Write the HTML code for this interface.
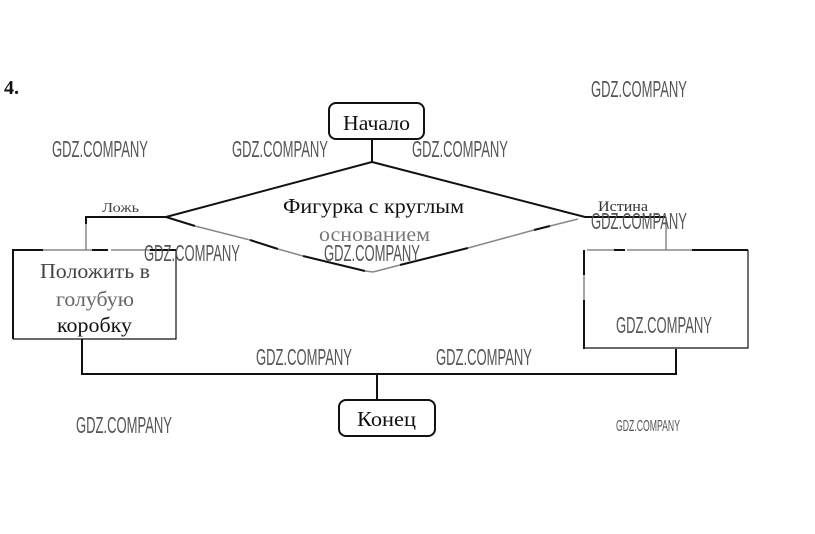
<!DOCTYPE html>
<html><head><meta charset="utf-8"><style>
html,body{margin:0;padding:0;background:#fff;width:815px;height:534px;overflow:hidden}
svg{display:block}
.w{font-family:"Liberation Sans",sans-serif;font-size:23.5px;fill:#555}
.t{font-family:"Liberation Serif",serif;fill:#111}
</style></head><body>
<svg width="815" height="534" viewBox="0 0 815 534" xmlns="http://www.w3.org/2000/svg">
<rect width="815" height="534" fill="#fff"/>
<g fill="none" stroke="#111" stroke-width="2">
<rect x="329" y="103" width="95" height="36" rx="7"/>
<rect x="339" y="400" width="96" height="36" rx="7"/>
<path d="M372 139V162L166 217H86V224"/>
<path d="M372 162L585 217H666"/>
<path d="M166 217L195 226M250 240L278 249M303 256L365 271"/>
<path d="M400 265L468 248M534 230L550 226"/>
<path d="M82 339V374H676V349M377 374V400"/>
<path d="M13 339V250H43M92 250H108M150 250H176"/>
<path d="M584 275V250M584 300V349M614 250H625M692 250H748"/>
</g>
<g fill="none" stroke="#888" stroke-width="1.5">
<path d="M86 224V250M43 250H92M111 250H150"/>
<path d="M195 226L250 240M278 249L303 256M365 271L373 272L400 265M468 248L534 230M550 226L578 219"/>
<path d="M666 217V250M587 250H614M627 250H692M584 275V300"/>
</g>
<g fill="none" stroke="#111" stroke-width="1.2">
<path d="M13 339H176V250"/>
<path d="M584 348H748V250"/>
</g>
<text x="4" y="94" class="t" font-size="20" font-weight="bold">4.</text>
<text x="343" y="130" class="t" font-size="21" textLength="67" lengthAdjust="spacingAndGlyphs">Начало</text>
<text x="283" y="213" class="t" font-size="21" textLength="181" lengthAdjust="spacingAndGlyphs">Фигурка с круглым</text>
<text x="319" y="241" class="t" font-size="20" textLength="111" lengthAdjust="spacingAndGlyphs" style="fill:#777">основанием</text>
<text x="102" y="212" class="t" font-size="14" textLength="37" lengthAdjust="spacingAndGlyphs" style="fill:#444">Ложь</text>
<text x="598" y="211" class="t" font-size="15" textLength="50" lengthAdjust="spacingAndGlyphs" style="fill:#333">Истина</text>
<text x="40" y="278" class="t" font-size="21" textLength="110" lengthAdjust="spacingAndGlyphs" style="fill:#444">Положить в</text>
<text x="56" y="306" class="t" font-size="21" textLength="78" lengthAdjust="spacingAndGlyphs" style="fill:#666">голубую</text>
<text x="57" y="332" class="t" font-size="21" textLength="75" lengthAdjust="spacingAndGlyphs">коробку</text>
<text x="357" y="426" class="t" font-size="21" textLength="59" lengthAdjust="spacingAndGlyphs">Конец</text>
<text class="w" x="591" y="97" textLength="96" lengthAdjust="spacingAndGlyphs">GDZ.COMPANY</text>
<text class="w" x="52" y="157" textLength="96" lengthAdjust="spacingAndGlyphs">GDZ.COMPANY</text>
<text class="w" x="232" y="157" textLength="96" lengthAdjust="spacingAndGlyphs">GDZ.COMPANY</text>
<text class="w" x="412" y="157" textLength="96" lengthAdjust="spacingAndGlyphs">GDZ.COMPANY</text>
<text class="w" x="591" y="229" textLength="96" lengthAdjust="spacingAndGlyphs">GDZ.COMPANY</text>
<text class="w" x="144" y="261" textLength="96" lengthAdjust="spacingAndGlyphs">GDZ.COMPANY</text>
<text class="w" x="324" y="261" textLength="96" lengthAdjust="spacingAndGlyphs">GDZ.COMPANY</text>
<text class="w" x="616" y="333" textLength="96" lengthAdjust="spacingAndGlyphs">GDZ.COMPANY</text>
<text class="w" x="256" y="365" textLength="96" lengthAdjust="spacingAndGlyphs">GDZ.COMPANY</text>
<text class="w" x="436" y="365" textLength="96" lengthAdjust="spacingAndGlyphs">GDZ.COMPANY</text>
<text class="w" x="76" y="433" textLength="96" lengthAdjust="spacingAndGlyphs">GDZ.COMPANY</text>
<text class="w" x="616" y="431" textLength="64" lengthAdjust="spacingAndGlyphs" style="font-size:16px">GDZ.COMPANY</text>
</svg>
</body></html>
